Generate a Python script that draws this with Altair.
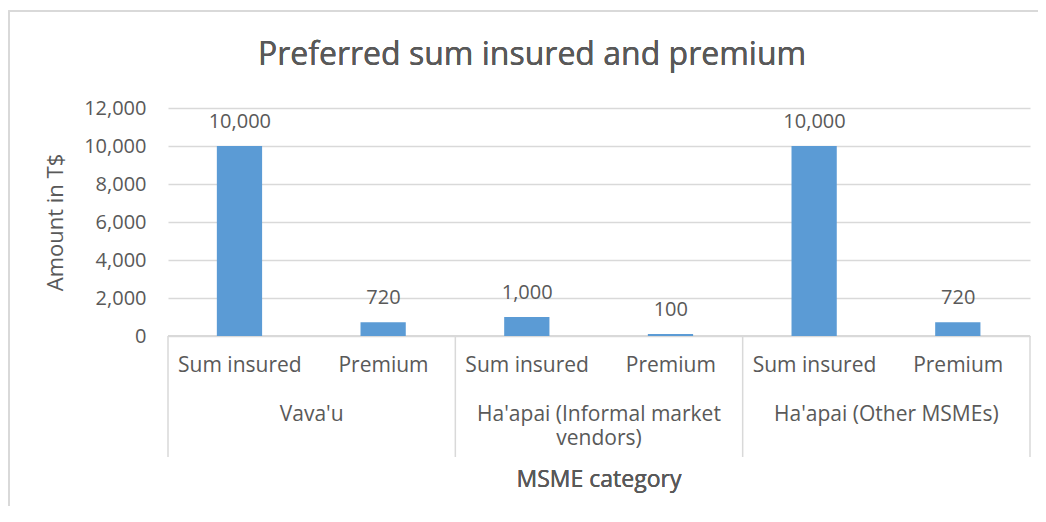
import altair as alt
import pandas as pd

groups = ["Vava'u", "Ha'apai (Informal market\nvendors)", "Ha'apai (Other MSMEs)"]
items = ["Sum insured", "Premium"]
values = [10000, 720, 1000, 100, 10000, 720]
y_ticks = [0, 2000, 4000, 6000, 8000, 10000, 12000]

rows = []
for gi, g in enumerate(groups):
    for ii, it in enumerate(items):
        k = gi * len(items) + ii
        rows.append({"group": g, "item": it, "value": values[k], "idx": k})
df = pd.DataFrame(rows)
gdf = pd.DataFrame({"group": groups, "gidx": list(range(len(groups)))})
bdf = pd.DataFrame({"b": [i * len(items) for i in range(len(groups) + 1)]})

TXT = "#595959"
GRID = "#d9d9d9"
FONT = "Open Sans"
W, H = 862, 228
xs = alt.Scale(domain=[0, len(values)], nice=False, zero=False)
ys = alt.Scale(domain=[0, 12000], nice=False)
yax = alt.Axis(values=y_ticks, format=",.0f", grid=True, gridColor=GRID,
               gridWidth=1.5, domain=False, ticks=False,
               labelFontSize=20, labelColor=TXT, labelPadding=22,
               labelFont=FONT, title="Amount in T$", titleFont=FONT,
               titleFontSize=22, titleFontWeight="normal",
               titleColor=TXT, titlePadding=16)

base = alt.Chart(df).transform_calculate(
    x0="datum.idx + 0.34", x1="datum.idx + 0.655", xc="datum.idx + 0.5", z="0"
)

bars = base.mark_bar(color="#5b9bd5").encode(
    x=alt.X("x0:Q", scale=xs, axis=None),
    x2="x1:Q",
    y=alt.Y("value:Q", scale=ys, axis=yax),
    y2="z:Q",
)

vlabels = base.mark_text(fontSize=20, color=TXT, font=FONT, dy=-24,
                         baseline="middle", fontWeight="normal").encode(
    x=alt.X("xc:Q", scale=xs, axis=None), y=alt.Y("value:Q", scale=ys, axis=yax),
    text=alt.Text("value:Q", format=",.0f")
)

sublabels = base.mark_text(fontSize=21, color=TXT, font=FONT,
                           baseline="middle", fontWeight="normal").encode(
    x=alt.X("xc:Q", scale=xs, axis=None), y=alt.value(258), text="item:N"
)

glabels = alt.Chart(gdf).transform_calculate(
    gx="datum.gidx * 2 + 1"
).mark_text(fontSize=21, color=TXT, font=FONT, baseline="top", fontWeight="normal",
            lineBreak="\n", lineHeight=24).encode(
    x=alt.X("gx:Q", scale=xs, axis=None), y=alt.value(296), text="group:N"
)

seps = alt.Chart(bdf).mark_rule(color=GRID, strokeWidth=1.5).encode(
    x=alt.X("b:Q", scale=xs, axis=None), y=alt.value(228), y2=alt.value(349)
)

zero = alt.Chart(bdf).mark_rule(color=GRID, strokeWidth=1.5).encode(
    x=alt.value(0), x2=alt.value(W), y=alt.value(H)
)

xtitle = alt.Chart(gdf).mark_text(fontSize=23, color=TXT, font=FONT, fontWeight=400,
                                  baseline="middle", text="MSME category").encode(
    x=alt.value(W / 2), y=alt.value(372)
)

title = alt.Chart(gdf).mark_text(fontSize=32, color=TXT, font=FONT, fontWeight="normal",
                                 baseline="middle",
                                 text="Preferred sum insured and premium").encode(
    x=alt.value(364), y=alt.value(-53)
)

border = alt.Chart(gdf).mark_rect(fill="white", fillOpacity=0, stroke=GRID,
                                  strokeWidth=1.5).encode(
    x=alt.value(-159), x2=alt.value(900), y=alt.value(-97), y2=alt.value(600)
)

chart = alt.layer(border, seps, zero, bars, vlabels, sublabels, glabels, xtitle, title).properties(
    width=W, height=H,
    autosize=alt.AutoSizeParams(type="none"),
    padding={"left": 160, "top": 100, "right": 8, "bottom": 170},
    background="white",
).configure_view(stroke=None)

chart.save("out.html", embed_options={"renderer": "svg", "actions": False})
